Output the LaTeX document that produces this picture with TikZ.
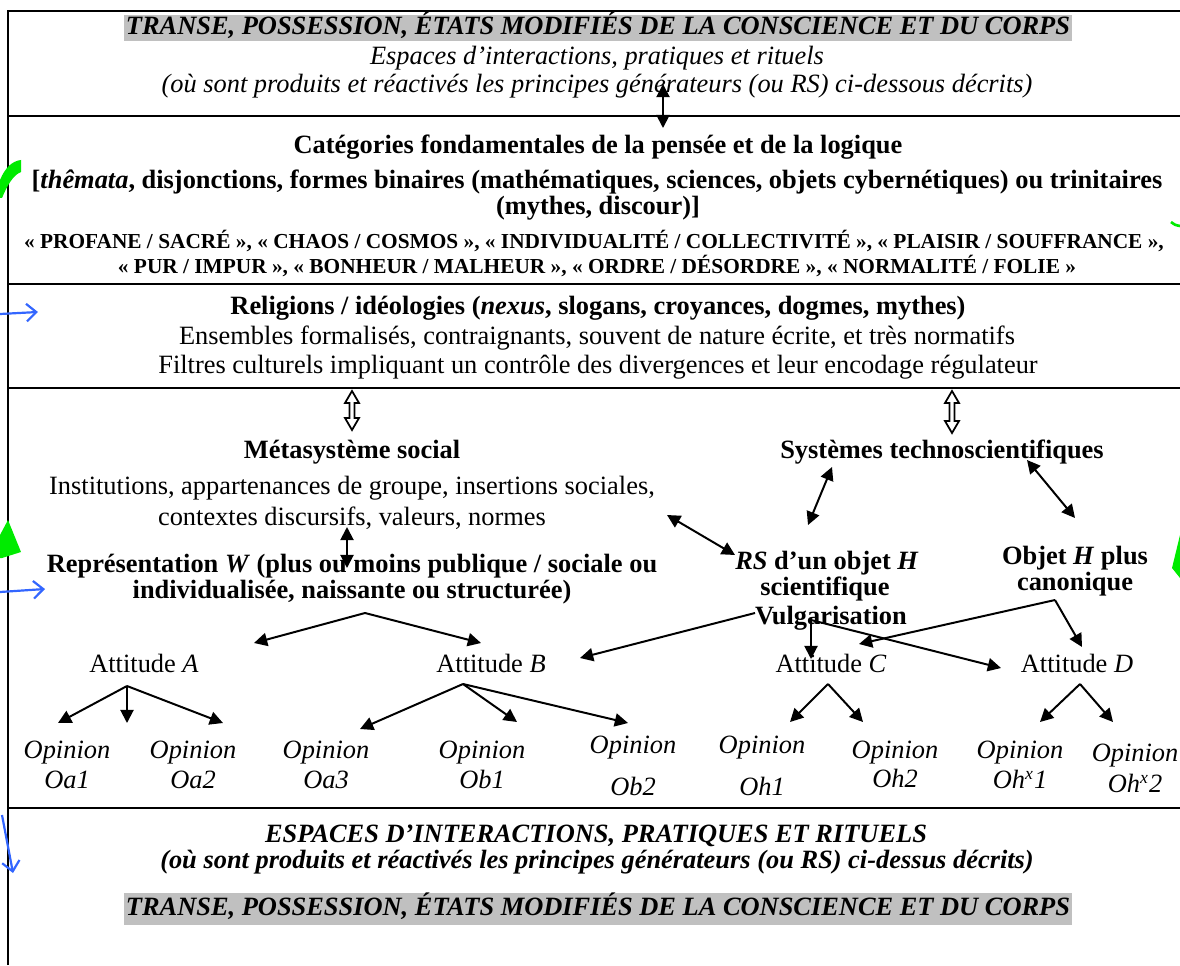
\documentclass[tikz,border=0pt]{standalone}
\usepackage{fontspec}
\setmainfont{Liberation Serif}
\usetikzlibrary{arrows.meta}

\definecolor{hlgrey}{RGB}{192,192,192}
\definecolor{markgreen}{RGB}{0,235,0}
\definecolor{markblue}{RGB}{51,102,255}

\tikzset{
txt/.style={inner sep=0pt, text height=8.6pt, text depth=2.4pt, font=\fontsize{12}{14}\selectfont},
txtb/.style={txt, font=\fontsize{12}{14}\selectfont\bfseries},
txti/.style={txt, font=\fontsize{12}{14}\selectfont\itshape},
txtbi/.style={txt, font=\fontsize{12}{14}\selectfont\bfseries\itshape},
txtsb/.style={inner sep=0pt, text height=7pt, text depth=2pt, font=\fontsize{9.7}{12}\selectfont\bfseries},
hl/.style={fill=hlgrey, inner xsep=1pt},
frame/.style={line width=1pt},
arr/.style={line width=0.9pt, -{Triangle[length=6pt,width=6pt]}},
dbl/.style={line width=0.9pt, {Triangle[length=6pt,width=6pt]}-{Triangle[length=6pt,width=6pt]}},
hollow/.style={draw, fill=white, line width=0.8pt},
bluearr/.style={markblue, line width=1pt, -{Straight Barb[length=4.5pt,width=8pt]}}
}
\tikzset{every picture/.style={line width=0.75pt}}

\begin{document}
\begin{tikzpicture}[x=0.4545pt,y=0.4545pt,yscale=-1,xscale=1]
\useasboundingbox (0,0) rectangle (1180,965);

%Straight Lines (frame)
\draw [frame] (8,965) -- (8,11) -- (1180,11) ;
\draw [frame] (8,116) -- (1180,116) ;
\draw [frame] (8,284) -- (1180,284) ;
\draw [frame] (8,388) -- (1180,388) ;
\draw [frame] (8,808) -- (1180,808) ;

% Text Node
\node [txtbi, hl, inner ysep=0.4pt] (transeTop) at (598,28) {TRANSE, POSSESSION, ÉTATS MODIFIÉS DE LA CONSCIENCE ET DU CORPS};
% Text Node
\node [txti] (espTopA) at (597,58) {Espaces d’interactions, pratiques et rituels};
% Text Node
\node [txti] (espTopB) at (597,86) {(où sont produits et réactivés les principes générateurs (ou RS) ci-dessous décrits)};

% Text Node
\node [txtb] (catA) at (598,147) {Catégories fondamentales de la pensée et de la logique};
% Text Node
\node [txtb] (catB) at (597,182) {[\textit{thêmata}, disjonctions, formes binaires (mathématiques, sciences, objets cybernétiques) ou trinitaires};
% Text Node
\node [txtb] (catC) at (598,208) {(mythes, discour)]};
% Text Node
\node [txtsb] (pairA) at (594,243) {«~PROFANE / SACRÉ~», «~CHAOS / COSMOS~», «~INDIVIDUALITÉ / COLLECTIVITÉ~», «~PLAISIR / SOUFFRANCE~»,};
% Text Node
\node [txtsb] (pairB) at (597,268) {«~PUR / IMPUR~», «~BONHEUR / MALHEUR~», «~ORDRE / DÉSORDRE~», «~NORMALITÉ / FOLIE~»};

% Text Node
\node [txtb] (relA) at (598,308) {Religions / idéologies (\textit{nexus}, slogans, croyances, dogmes, mythes)};
% Text Node
\node [txt] (relB) at (597,338) {Ensembles formalisés, contraignants, souvent de nature écrite, et très normatifs};
% Text Node
\node [txt] (relC) at (598,367) {Filtres culturels impliquant un contrôle des divergences et leur encodage régulateur};

% Text Node
\node [txtb] (metaA) at (352,452) {Métasystème social};
% Text Node
\node [txt] (metaB) at (352,488) {Institutions, appartenances de groupe, insertions sociales,};
% Text Node
\node [txt] (metaC) at (352,519) {contextes discursifs, valeurs, normes};
% Text Node
\node [txtb] (repA) at (352,566) {Représentation \textit{W} (plus ou moins publique / sociale ou};
% Text Node
\node [txtb] (repB) at (352,592) {individualisée, naissante ou structurée)};

% Text Node
\node [txtb] (techA) at (942,452) {Systèmes technoscientifiques};
% Text Node
\node [txtb] (rsA) at (827,563) {\textit{RS} d’un objet \textit{H}};
% Text Node
\node [txtb] (rsB) at (825,589) {scientifique};
% Text Node
\node [txtb] (objA) at (1075,558) {Objet \textit{H} plus};
% Text Node
\node [txtb] (objB) at (1075,584) {canonique};
% Text Node
\node [txtb] (vulg) at (831,618) {Vulgarisation};

% Text Node
\node [txt] (attA) at (144,666) {Attitude \textit{A}};
% Text Node
\node [txt] (attB) at (491,666) {Attitude \textit{B}};
% Text Node
\node [txt] (attC) at (831,666) {Attitude \textit{C}};
% Text Node
\node [txt] (attD) at (1077,666) {Attitude \textit{D}};

% Text Node
\node [txti] (opOa1) at (67,752) {Opinion};
\node [txti] (lbOa1) at (67,782) {Oa1};
% Text Node
\node [txti] (opOa2) at (193,752) {Opinion};
\node [txti] (lbOa2) at (193,782) {Oa2};
% Text Node
\node [txti] (opOa3) at (326,752) {Opinion};
\node [txti] (lbOa3) at (326,782) {Oa3};
% Text Node
\node [txti] (opOb1) at (482,752) {Opinion};
\node [txti] (lbOb1) at (482,782) {Ob1};
% Text Node
\node [txti] (opOb2) at (633,747) {Opinion};
\node [txti] (lbOb2) at (633,789) {Ob2};
% Text Node
\node [txti] (opOh1) at (762,747) {Opinion};
\node [txti] (lbOh1) at (762,789) {Oh1};
% Text Node
\node [txti] (opOh2) at (895,752) {Opinion};
\node [txti] (lbOh2) at (895,781) {Oh2};
% Text Node
\node [txti] (opOhx1) at (1020,752) {Opinion};
\node [txti] (lbOhx1) at (1020,782) {Oh\textsuperscript{x}1};
% Text Node
\node [txti] (opOhx2) at (1135,755) {Opinion};
\node [txti] (lbOhx2) at (1135,786) {Oh\textsuperscript{x}2};

% Text Node
\node [txtbi] (espBotA) at (596,836) {ESPACES D’INTERACTIONS, PRATIQUES ET RITUELS};
% Text Node
\node [txtbi] (espBotB) at (597,862) {(où sont produits et réactivés les principes générateurs (ou RS) ci-dessus décrits)};
% Text Node
\node [txtbi, hl, inner ysep=1.7pt] (transeBot) at (598,909) {TRANSE, POSSESSION, ÉTATS MODIFIÉS DE LA CONSCIENCE ET DU CORPS};

%Shape: Double Arrow (hollow)
\draw [hollow] (352,391) -- (359,403) -- (354.5,403) -- (354.5,418) -- (359,418) -- (352,430) -- (345,418) -- (349.5,418) -- (349.5,403) -- (345,403) -- cycle ;
%Shape: Double Arrow (hollow)
\draw [hollow] (952,391) -- (959,403) -- (954.5,403) -- (954.5,421) -- (959,421) -- (952,433) -- (945,421) -- (949.5,421) -- (949.5,403) -- (945,403) -- cycle ;

% arrow ends
\coordinate (espFoot) at (663,84) ;
\coordinate (catHead) at (663,128) ;
\coordinate (metaFoot) at (347,527) ;
\coordinate (repHead) at (347,568) ;
\coordinate (metaRight) at (667,515) ;
\coordinate (rsLeft) at (735,555) ;
\coordinate (techL) at (832,467) ;
\coordinate (rsTop) at (808,525) ;
\coordinate (techR) at (1027,460) ;
\coordinate (objTop) at (1075,518) ;
\coordinate (repFoot) at (365,613) ;
\coordinate (attATop) at (254,643) ;
\coordinate (attBTop) at (481,643) ;
\coordinate (vulgL) at (755,613) ;
\coordinate (vulgM) at (811,620) ;
\coordinate (attBRight) at (580,658) ;
\coordinate (attCTop) at (811,659) ;
\coordinate (attDLeft) at (1001,668) ;
\coordinate (objFoot) at (1055,600) ;
\coordinate (attCRight) at (859,644) ;
\coordinate (attDTop) at (1082,647) ;
\coordinate (attAFoot) at (127,686) ;
\coordinate (attBFoot) at (463,684) ;
\coordinate (attCFoot) at (828,684) ;
\coordinate (attDFoot) at (1080,684) ;

%Straight Lines [double]
\draw [dbl] (espFoot) -- (catHead) ;
\draw [dbl] (metaFoot) -- (repHead) ;
\draw [dbl] (metaRight) -- (rsLeft) ;
\draw [dbl] (techL) -- (rsTop) ;
\draw [dbl] (techR) -- (objTop) ;

%Straight Lines
\draw [arr] (repFoot) -- (attATop) ;
\draw [arr] (repFoot) -- (attBTop) ;
\draw [arr] (vulgL) -- (attBRight) ;
\draw [arr] (vulgM) -- (attCTop) ;
\draw [arr] (vulgM) -- (attDLeft) ;
\draw [arr] (objFoot) -- (attCRight) ;
\draw [arr] (objFoot) -- (attDTop) ;

%Straight Lines (attitudes to opinions)
\draw [arr] (attAFoot) -- (58,723) coordinate (oa1Tip) ;
\draw [arr] (attAFoot) -- (127,723) coordinate (oa2Tip) ;
\draw [arr] (attAFoot) -- (223,723) coordinate (oa3Tip) ;
\draw [arr] (attBFoot) -- (360,729) coordinate (ob1Tip) ;
\draw [arr] (attBFoot) -- (517,722) coordinate (ob2Tip) ;
\draw [arr] (attBFoot) -- (628,723) coordinate (ob3Tip) ;
\draw [arr] (attCFoot) -- (790,722) coordinate (oh1Tip) ;
\draw [arr] (attCFoot) -- (863,722) coordinate (oh2Tip) ;
\draw [arr] (attDFoot) -- (1040,722) coordinate (ohx1Tip) ;
\draw [arr] (attDFoot) -- (1113,722) coordinate (ohx2Tip) ;

%Shape: green marks
\fill [markgreen] (0,180) .. controls (5,168) and (12,161) .. (21,160) -- (21,172) .. controls (13,175) and (7,186) .. (2,198) -- (0,198) -- cycle ;
\fill [markgreen] (0,535) -- (8,520) -- (21,552) -- (2,558) -- (0,558) -- cycle ;
\draw [markgreen, line width=1.2pt] (1171,222) .. controls (1175,225) .. (1180,226) ;
\fill [markgreen] (1172,568) -- (1180,535) -- (1180,578) -- cycle ;

%Straight Lines (blue)
\draw [bluearr] (0,314) -- (38,312) coordinate (relIn) ;
\draw [bluearr] (0,592) -- (45,589) coordinate (repIn) ;
\draw [bluearr] (2,815) -- (13,873) coordinate (espIn) ;

\end{tikzpicture}
\end{document}
